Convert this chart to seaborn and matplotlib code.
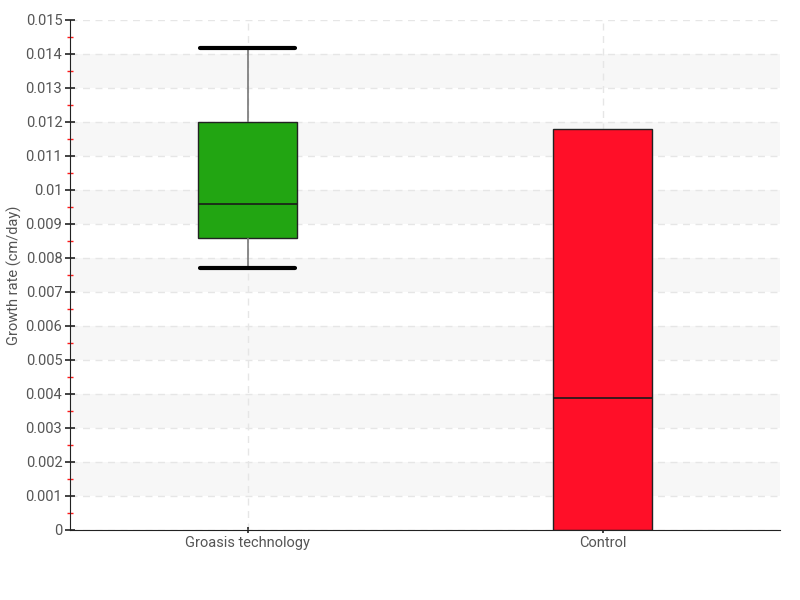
import pandas as pd
import matplotlib
matplotlib.use("Agg")
import matplotlib.pyplot as plt
import matplotlib.ticker as mticker
import seaborn as sns

# values
categories = ["Groasis technology", "Control"]
groasis_values = [0.00771, 0.00859, 0.00959, 0.0120, 0.01418]
control_values = [0.0, 0.0, 0.00388, 0.01179, 0.01179]
box_colors = ["#22a512", "#ff0f28"]

df = pd.DataFrame({
    "group": [categories[0]] * len(groasis_values) + [categories[1]] * len(control_values),
    "rate": groasis_values + control_values,
})

sns.set_style("white")
plt.rcParams["font.family"] = ["Roboto", "DejaVu Sans"]

fig = plt.figure(figsize=(8, 6), dpi=100)
ax = fig.add_axes([0.0875, 0.1167, 0.8875, 0.85])

# striped background bands
for lo in range(1, 15, 2):
    ax.axhspan(lo / 1000, (lo + 1) / 1000, color="#f7f7f7", zorder=0, lw=0)

box_w = 0.28
sns.boxplot(data=df, x="group", y="rate", hue="group", order=categories,
            hue_order=categories, palette=box_colors, width=box_w, saturation=1,
            showfliers=False, linecolor="#333333", linewidth=1, legend=False, ax=ax)

# per-box styling of whiskers and caps
for i, cont in enumerate(ax.containers):
    for w in cont.whiskers:
        w.set_color("#777777")
        w.set_linewidth(1.2)
    for c in cont.caps:
        c.set_color("black")
        c.set_linewidth(3)
        c.set_xdata([i - box_w / 2 * 0.95, i + box_w / 2 * 0.95])
        if i == 1:
            c.set_visible(False)
    for m in cont.medians:
        m.set_color("#1a1a1a")
        m.set_linewidth(1.2)
    for b in cont.boxes:
        b.set_edgecolor("#222222")

ax.set_xlim(-0.5, 1.5)
ax.set_ylim(0, 0.015)
ax.yaxis.set_major_locator(mticker.MultipleLocator(0.001))
ax.yaxis.set_minor_locator(mticker.MultipleLocator(0.0005))
ax.yaxis.set_major_formatter(mticker.FuncFormatter(
    lambda v, p: ("%.3f" % v).rstrip("0").rstrip(".") if v != 0 else "0"))

ax.grid(True, axis="both", which="major", linestyle=(0, (5, 4)), color="#e6e6e6", lw=1)
ax.set_axisbelow(True)

for s in ["top", "right"]:
    ax.spines[s].set_visible(False)
ax.spines["left"].set_color("#222222")
ax.spines["bottom"].set_color("#222222")

ax.tick_params(axis="y", which="major", left=True, direction="inout", length=7, width=1.2,
               color="#222222", labelsize=10.5, labelcolor="#555555", pad=2)
ax.tick_params(axis="y", which="minor", left=True, direction="inout", length=4, width=1,
               color="#ff1a1a")
ax.tick_params(axis="x", bottom=True, direction="inout", length=5, width=1.2, color="#222222",
               labelsize=10.5, labelcolor="#555555", pad=2)

ax.set_xlabel("")
ax.set_ylabel("Growth rate (cm/day)", fontsize=10.5, color="#555555")
ax.yaxis.set_label_coords(-0.068, 0.5)

fig.savefig("out.png", dpi=100)
